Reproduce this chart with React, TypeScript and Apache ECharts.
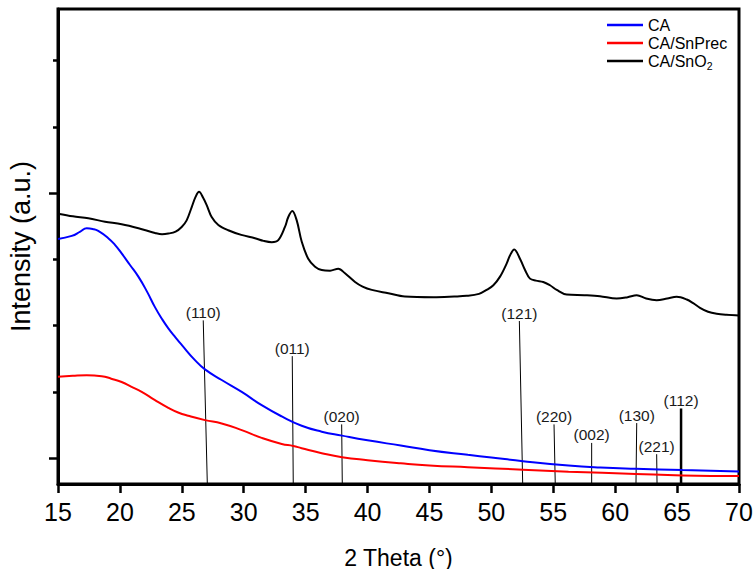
import React, { useEffect, useRef } from 'react';
import * as echarts from 'echarts';

const FONT = '"Liberation Sans", Arial, sans-serif';

// CA/SnO2 (black)
const sno2Theta = [15.0, 16.2, 17.45, 18.8, 20.14, 21.5, 22.83, 23.4, 23.91, 24.5, 24.99, 25.39, 25.8, 26.1, 26.39, 26.7, 27.01, 27.41, 27.95, 28.75, 29.8, 30.91, 31.6, 32.26, 32.79, 33.33, 33.6, 33.92, 34.28, 34.68, 35.21, 35.76, 36.3, 36.97, 37.64, 38.18, 38.99, 39.6, 40.34, 41.68, 43.02, 45.31, 47.0, 48.01, 49.0, 49.62, 50.16, 50.7, 51.24, 51.5, 51.85, 52.31, 52.72, 53.12, 53.6, 54.19, 54.73, 55.28, 56.08, 57.5, 58.77, 60.12, 61.0, 61.74, 62.5, 63.35, 64.2, 64.97, 65.78, 66.3, 66.85, 67.5, 68.2, 69.0, 70.0];
const sno2Intensity = [369, 365, 362, 357, 353, 347, 340, 338, 339, 342, 349, 359, 379, 394, 402, 394, 382, 364, 352, 344, 337, 332, 328, 326, 329, 349, 364, 373, 359, 327, 301, 289, 284, 283, 286, 279, 266, 259, 254, 249, 244, 243, 244, 245, 248, 254, 261, 274, 294, 306, 315, 301, 284, 271, 268, 266, 261, 254, 247, 246, 244.5, 241, 243, 246, 241, 238.5, 241, 243.5, 239.5, 234, 227, 221, 218, 216.5, 215.5];

// CA (blue)
const caTheta = [15.0, 16.11, 16.8, 17.32, 17.8, 18.25, 19.06, 19.6, 20.14, 20.8, 21.49, 22.2, 22.83, 23.4, 23.91, 24.5, 24.99, 26.06, 26.87, 28.22, 29.84, 31.45, 33.07, 34.68, 36.3, 37.94, 40.0, 42.68, 45.0, 48.1, 50.0, 52.55, 56.23, 58.8, 61.65, 65.44, 70.0];
const caIntensity = [331, 335.5, 342, 347, 346, 343, 332, 322, 309, 292, 274, 251, 228, 210, 196, 182, 171, 148, 134, 118, 100, 80, 63, 49, 40, 34, 27, 19, 12, 5, 1, -4.5, -11, -14, -16, -18, -20];

// CA/SnPrec (red)
const precTheta = [15.0, 16.2, 17.32, 18.53, 19.3, 20.14, 20.9, 21.76, 22.8, 23.91, 24.7, 25.52, 26.87, 28.22, 29.84, 31.45, 33.07, 34.0, 34.68, 36.3, 37.94, 40.0, 42.68, 45.0, 48.1, 52.55, 56.23, 61.65, 65.44, 70.0];
const precIntensity = [123, 124.5, 125.3, 123.8, 120, 115, 108, 100, 88, 76, 69, 64, 57.4, 52.4, 42.3, 30.6, 21.5, 18.5, 15, 7.5, 1.5, -3, -7.7, -11, -13.7, -17.4, -20.4, -23.8, -26, -27];

// Reference reflections
const markerLabels = ['(110)', '(011)', '(020)', '(121)', '(220)', '(002)', '(130)', '(221)', '(112)'];
const markerTopTheta = [26.73, 33.92, 37.91, 52.26, 55.06, 58.1, 61.74, 63.35, 65.32];
const markerBaseTheta = [27.06, 34.0, 37.96, 52.53, 55.16, 58.1, 61.68, 63.38, 65.32];
const markerHeight = [208, 154, 51, 207, 51, 23, 53, 6, 75];

const X_MIN = 15;
const X_MAX = 70;
const X_STEP = 5;
const Y_MIN = -39;
const Y_MAX = 678;
const yMajorTicks = [0, 400];
const yMinorTicks = [100, 200, 300, 500, 600];

const seriesNames = ['CA', 'CA/SnPrec', 'CA/SnO2'];

const zip = (xs: number[], ys: number[]) => xs.map((x, i) => [x, ys[i]]);

export default function App() {
  const ref = useRef<HTMLDivElement>(null);

  useEffect(() => {
    document.body.style.margin = '0';
    if (!ref.current) return;
    const chart = echarts.init(ref.current, null, { renderer: 'svg' });

    const markerData = markerLabels.map((_, i) => [markerTopTheta[i], markerBaseTheta[i], markerHeight[i]]);

    const curve = (name: string, xs: number[], ys: number[], color: string, smooth: number) => ({
      name,
      type: 'line',
      data: zip(xs, ys),
      symbol: 'none',
      showSymbol: false,
      smooth,
      z: 3,
      lineStyle: { color, width: 2 },
      itemStyle: { color },
    });

    const option: any = {
      animation: false,
      backgroundColor: '#fff',
      textStyle: { fontFamily: FONT },
      grid: {
        left: 58,
        right: 16,
        top: 9,
        bottom: 85,
        show: true,
        borderColor: '#000',
        borderWidth: 3,
        containLabel: false,
        outerBoundsMode: 'none',
      },
      legend: {
        data: seriesNames,
        orient: 'vertical',
        left: 602,
        top: 12,
        icon: 'rect',
        itemWidth: 36,
        itemHeight: 2.5,
        itemGap: 2,
        selectedMode: false,
        textStyle: {
          fontSize: 16,
          lineHeight: 16,
          color: '#000',
          fontFamily: FONT,
          rich: {
            sub: { fontSize: 10.5, color: '#000', fontFamily: FONT, padding: [10, 0, 0, 0] },
          },
        },
        formatter: (name: string) => (name === 'CA/SnO2' ? 'CA/SnO{sub|2}' : name),
      },
      xAxis: [
        {
          type: 'value',
          min: X_MIN,
          max: X_MAX,
          interval: X_STEP,
          position: 'bottom',
          name: '2 Theta (°)',
          nameLocation: 'middle',
          nameGap: 62,
          nameTextStyle: { fontSize: 23, color: '#000', fontFamily: FONT },
          axisLine: { show: true, onZero: false, lineStyle: { color: '#000', width: 3 } },
          axisTick: { show: true, inside: false, length: 9, lineStyle: { color: '#000', width: 2.5 } },
          axisLabel: { fontSize: 25, color: '#000', fontFamily: FONT, margin: 15 },
          splitLine: { show: false },
        },
      ],
      yAxis: [
        {
          type: 'value',
          min: Y_MIN,
          max: Y_MAX,
          position: 'left',
          name: 'Intensity (a.u.)',
          nameLocation: 'middle',
          nameGap: 24,
          nameTextStyle: { fontSize: 27, color: '#000', fontFamily: FONT },
          axisLine: { show: true, onZero: false, lineStyle: { color: '#000', width: 3 } },
          axisTick: { show: true, inside: false, length: 9, customValues: yMajorTicks, lineStyle: { color: '#000', width: 2.5 } },
          axisLabel: { show: false },
          splitLine: { show: false },
        },
        {
          type: 'value',
          min: Y_MIN,
          max: Y_MAX,
          position: 'left',
          axisLine: { show: false },
          axisTick: { show: true, inside: false, length: 5, customValues: yMinorTicks, lineStyle: { color: '#000', width: 2.5 } },
          axisLabel: { show: false },
          splitLine: { show: false },
        },
      ],
      series: [
        {
          name: 'markers',
          type: 'custom',
          xAxisIndex: 0,
          yAxisIndex: 0,
          encode: { x: [0, 1], y: 2 },
          clip: false,
          z: 1,
          data: markerData,
          renderItem: (params: any, api: any) => {
            const i = params.dataIndex;
            const top = api.coord([api.value(0), api.value(2)]);
            const base = api.coord([api.value(1), Y_MIN]);
            const thick = markerLabels[i] === '(112)';
            return {
              type: 'group',
              children: [
                {
                  type: 'line',
                  shape: { x1: base[0], y1: base[1], x2: top[0], y2: top[1] },
                  style: { stroke: '#000', lineWidth: thick ? 2.5 : 1 },
                },
                {
                  type: 'text',
                  x: top[0],
                  y: top[1],
                  style: {
                    text: markerLabels[i],
                    align: 'center',
                    verticalAlign: 'bottom',
                    fontSize: 15.5,
                    fontFamily: FONT,
                    fill: '#1a1a1a',
                  },
                },
              ],
            };
          },
        },
        curve('CA/SnO2', sno2Theta, sno2Intensity, '#000', 0.35),
        curve('CA', caTheta, caIntensity, '#0000ff', 0.5),
        curve('CA/SnPrec', precTheta, precIntensity, '#ff0000', 0.5),
      ],
    };

    chart.setOption(option);
    return () => chart.dispose();
  }, []);

  return <div ref={ref} style={{ width: 755, height: 569 }} />;
}
